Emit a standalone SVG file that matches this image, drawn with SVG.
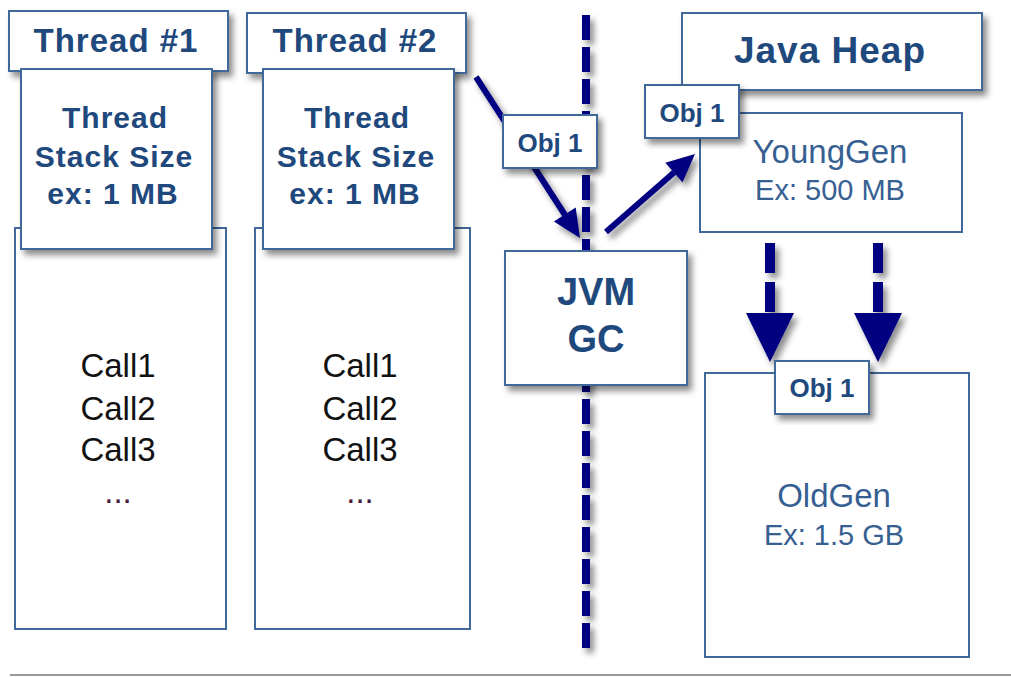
<svg xmlns="http://www.w3.org/2000/svg" width="1011" height="677" viewBox="0 0 1011 677">
<defs>
<filter id="sh" x="-20%" y="-20%" width="140%" height="140%">
<feDropShadow dx="4" dy="5" stdDeviation="3" flood-color="#000" flood-opacity="0.45"/>
</filter>
<filter id="shu" filterUnits="userSpaceOnUse" x="0" y="0" width="1011" height="677">
<feDropShadow dx="4" dy="5" stdDeviation="3" flood-color="#000" flood-opacity="0.45"/>
</filter>
</defs>
<style>
.box{fill:#fff;stroke:#41689a;stroke-width:2}
.sbox{fill:#fff;stroke:#41689a;stroke-width:2;filter:url(#sh)}
.b{font-family:"Liberation Sans",Arial,sans-serif;font-weight:bold;fill:#1f497d;text-anchor:middle}
.r{font-family:"Liberation Sans",Arial,sans-serif;fill:#376092;text-anchor:middle}
.c{font-family:"Liberation Sans",Arial,sans-serif;fill:#111;text-anchor:middle;font-size:33px}
.nv{stroke:#000080;fill:none}
.hd{fill:#000080}
</style>
<rect width="1011" height="677" fill="#fff"/>
<line x1="10" y1="675" x2="1011" y2="675" stroke="#9a9a9a" stroke-width="2"/>

<g id="connectors" filter="url(#shu)">
<line class="nv" x1="586" y1="15" x2="586" y2="648" stroke-width="8" stroke-dasharray="25 7"/>
<line class="nv" x1="476" y1="77" x2="565" y2="215" stroke-width="6"/>
<path class="hd" d="M580,238 L553.9,221.6 L575.7,207.5 z"/>
<line class="nv" x1="606" y1="232" x2="674" y2="172.5" stroke-width="6"/>
<path class="hd" d="M695,154 L682.5,182.3 L665.3,162.7 z"/>
<line class="nv" x1="770" y1="243" x2="770" y2="314" stroke-width="10" stroke-dasharray="30 9"/>
<path class="hd" d="M746,313 L794,313 L770,362 z"/>
<line class="nv" x1="878" y1="243" x2="878" y2="314" stroke-width="10" stroke-dasharray="30 9"/>
<path class="hd" d="M854,313 L902,313 L878,362 z"/>
</g>

<g id="call1"><rect class="box" x="15" y="228" width="211" height="401"/>
<text class="c" x="118" y="377">Call1</text><text class="c" x="118" y="420">Call2</text><text class="c" x="118" y="461">Call3</text><text class="c" x="118" y="503" style="fill:#4a1a3a">...</text></g>
<g id="call2"><rect class="box" x="255" y="228" width="215" height="401"/>
<text class="c" x="360" y="377">Call1</text><text class="c" x="360" y="420">Call2</text><text class="c" x="360" y="461">Call3</text><text class="c" x="360" y="503" style="fill:#4a1a3a">...</text></g>

<g id="thread1"><rect class="sbox" x="9" y="11" width="219" height="60"/>
<text class="b" x="116" y="52" font-size="33" letter-spacing="1">Thread #1</text></g>
<g id="thread2"><rect class="sbox" x="247" y="13" width="219" height="60"/>
<text class="b" x="355" y="52" font-size="33" letter-spacing="1">Thread #2</text></g>

<g id="stack1"><rect class="sbox" x="21" y="69" width="191" height="180"/>
<text class="b" x="115" y="128" font-size="30" letter-spacing="1">Thread</text>
<text class="b" x="114" y="167" font-size="30" letter-spacing="1">Stack Size</text>
<text class="b" x="113" y="204" font-size="30" letter-spacing="1">ex: 1 MB</text></g>
<g id="stack2"><rect class="sbox" x="263" y="69" width="191" height="180"/>
<text class="b" x="357" y="128" font-size="30" letter-spacing="1">Thread</text>
<text class="b" x="356" y="167" font-size="30" letter-spacing="1">Stack Size</text>
<text class="b" x="355" y="204" font-size="30" letter-spacing="1">ex: 1 MB</text></g>

<g id="jvmgc"><rect class="sbox" x="505" y="251" width="182" height="134"/>
<text class="b" x="596" y="305" font-size="38">JVM</text>
<text class="b" x="596" y="352" font-size="38">GC</text></g>

<g id="obj1a"><rect class="sbox" x="503" y="115" width="94" height="53"/>
<text class="b" x="550" y="152" font-size="26">Obj 1</text></g>

<g id="javaheap"><rect class="sbox" x="682" y="13" width="300" height="77"/>
<text class="b" x="830" y="63" font-size="37" letter-spacing="1">Java Heap</text></g>

<g id="younggen"><rect class="box" x="700" y="113" width="262" height="119"/>
<text class="r" x="830" y="163" font-size="33">YoungGen</text>
<text class="r" x="830" y="200" font-size="29">Ex: 500 MB</text></g>

<g id="obj1b"><rect class="sbox" x="645" y="85" width="94" height="53"/>
<text class="b" x="692" y="122" font-size="26">Obj 1</text></g>

<g id="oldgen"><rect class="box" x="705" y="373" width="264" height="284"/>
<text class="r" x="834" y="507" font-size="33">OldGen</text>
<text class="r" x="834" y="545" font-size="29">Ex: 1.5 GB</text></g>

<g id="obj1c"><rect class="sbox" x="775" y="361" width="94" height="53"/>
<text class="b" x="822" y="397" font-size="26">Obj 1</text></g>
</svg>
